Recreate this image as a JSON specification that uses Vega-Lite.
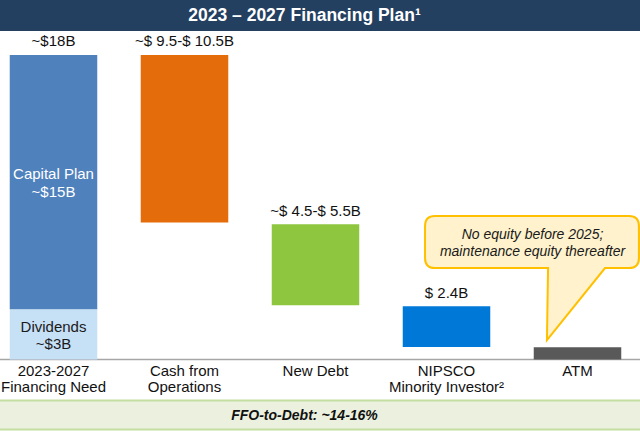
{
  "$schema": "https://vega.github.io/schema/vega-lite/v6.json",
  "width": 640,
  "height": 431,
  "autosize": "none",
  "padding": 0,
  "background": "#ffffff",
  "config": {"view": {"stroke": null}, "font": "Liberation Sans"},
  "datasets": {
    "bars": [
      {"cat": "2023-2027\nFinancing Need", "part": "Capital Plan", "lo": 2.95, "hi": 18},
      {"cat": "2023-2027\nFinancing Need", "part": "Dividends", "lo": 0, "hi": 2.95},
      {"cat": "Cash from\nOperations", "part": "Cash from Operations", "lo": 8.1, "hi": 18},
      {"cat": "New Debt", "part": "New Debt", "lo": 3.2, "hi": 8.0},
      {"cat": "NIPSCO\nMinority Investor²", "part": "NIPSCO Minority Investor", "lo": 0.74, "hi": 3.15},
      {"cat": "ATM", "part": "ATM", "lo": 0, "hi": 0.72}
    ],
    "toplabels": [
      {"cat": "2023-2027\nFinancing Need", "label": "~$18B", "top": 18},
      {"cat": "Cash from\nOperations", "label": "~$ 9.5-$ 10.5B", "top": 18},
      {"cat": "New Debt", "label": "~$ 4.5-$ 5.5B", "top": 8.0},
      {"cat": "NIPSCO\nMinority Investor²", "label": "$ 2.4B", "top": 3.15}
    ],
    "cats": [
      {"cat": "2023-2027\nFinancing Need"},
      {"cat": "Cash from\nOperations"},
      {"cat": "New Debt"},
      {"cat": "NIPSCO\nMinority Investor²"},
      {"cat": "ATM"}
    ]
  },
  "layer": [
    {
      "data": {"values": [{"a": 21.3, "b": 19.41}]},
      "mark": {"type": "rect", "color": "#244061"},
      "encoding": {
        "y": {"field": "a", "type": "quantitative", "scale": {"domain": [-4.23, 21.25], "nice": false, "zero": false}, "axis": null},
        "y2": {"field": "b"}
      }
    },
    {
      "data": {"values": [{"a": -2.42, "b": -4.14}]},
      "mark": {"type": "rect", "color": "#ebf1de"},
      "encoding": {
        "y": {"field": "a", "type": "quantitative"},
        "y2": {"field": "b"}
      }
    },
    {
      "data": {"values": [{"v": -2.42}, {"v": -4.14}]},
      "mark": {"type": "rule", "color": "#c4dda0", "strokeWidth": 2},
      "encoding": {"y": {"field": "v", "type": "quantitative"}}
    },
    {
      "data": {"values": [{"v": 0}]},
      "mark": {"type": "rule", "color": "#a6a6a6", "strokeWidth": 1.5},
      "encoding": {"y": {"field": "v", "type": "quantitative"}}
    },
    {
      "data": {"name": "bars"},
      "mark": {"type": "bar"},
      "encoding": {
        "x": {"field": "cat", "type": "nominal", "axis": null,
              "scale": {"domain": ["2023-2027\nFinancing Need", "Cash from\nOperations", "New Debt", "NIPSCO\nMinority Investor²", "ATM"],
                        "range": [-12, 643], "paddingInner": 0.332, "paddingOuter": 0.166}},
        "y": {"field": "lo", "type": "quantitative"},
        "y2": {"field": "hi"},
        "color": {"field": "part", "type": "nominal", "legend": null,
                  "scale": {"domain": ["Capital Plan", "Dividends", "Cash from Operations", "New Debt", "NIPSCO Minority Investor", "ATM"],
                            "range": ["#4f81bd", "#c6e0f6", "#e46c0a", "#8ec63f", "#0078d7", "#595959"]}}
      }
    },
    {
      "data": {"name": "toplabels"},
      "mark": {"type": "text", "fontSize": 15, "baseline": "alphabetic", "dy": -8.5, "color": "#111111"},
      "encoding": {
        "x": {"field": "cat", "type": "nominal"},
        "y": {"field": "top", "type": "quantitative"},
        "text": {"field": "label"}
      }
    },
    {
      "data": {"values": [{"cat": "2023-2027\nFinancing Need", "label": "Capital Plan\n~$15B", "mid": 10.96}]},
      "mark": {"type": "text", "fontSize": 15, "baseline": "middle", "lineBreak": "\n", "lineHeight": 17.5, "color": "#ffffff"},
      "encoding": {
        "x": {"field": "cat", "type": "nominal"},
        "y": {"field": "mid", "type": "quantitative"},
        "text": {"field": "label"}
      }
    },
    {
      "data": {"values": [{"cat": "2023-2027\nFinancing Need", "label": "Dividends\n~$3B", "mid": 1.94}]},
      "mark": {"type": "text", "fontSize": 15, "baseline": "middle", "lineBreak": "\n", "lineHeight": 17.5, "color": "#1a1a1a"},
      "encoding": {
        "x": {"field": "cat", "type": "nominal"},
        "y": {"field": "mid", "type": "quantitative"},
        "text": {"field": "label"}
      }
    },
    {
      "data": {"values": [{"cat": "ATM", "v": 4.8}]},
      "mark": {"type": "point", "filled": true, "fill": "#fff2cc", "stroke": "#ffc000", "strokeWidth": 2, "opacity": 1, "fillOpacity": 1, "strokeOpacity": 1, "size": 102400,
               "shape": "M -0.891 -0.389 L 0.322 -0.389 Q 0.384 -0.389 0.384 -0.327 L 0.384 -0.127 Q 0.384 -0.064 0.322 -0.064 L 0.172 -0.064 L -0.191 0.386 L -0.184 -0.064 L -0.891 -0.064 Q -0.953 -0.064 -0.953 -0.127 L -0.953 -0.327 Q -0.953 -0.389 -0.891 -0.389 Z"},
      "encoding": {
        "x": {"field": "cat", "type": "nominal"},
        "y": {"field": "v", "type": "quantitative"}
      }
    },
    {
      "data": {"values": [{"cat": "ATM", "v": 7.36, "label": "No equity before 2025;\nmaintenance equity thereafter"}]},
      "mark": {"type": "text", "fontSize": 14, "fontStyle": "italic", "baseline": "middle", "lineBreak": "\n", "lineHeight": 17, "dx": -45, "color": "#1a1a1a"},
      "encoding": {
        "x": {"field": "cat", "type": "nominal"},
        "y": {"field": "v", "type": "quantitative"},
        "text": {"field": "label"}
      }
    },
    {
      "data": {"name": "cats"},
      "mark": {"type": "text", "fontSize": 15, "baseline": "alphabetic", "lineBreak": "\n", "lineHeight": 16, "color": "#111111"},
      "encoding": {
        "x": {"field": "cat", "type": "nominal"},
        "y": {"datum": -0.975, "type": "quantitative"},
        "text": {"field": "cat"}
      }
    },
    {
      "data": {"values": [{"label": "2023 – 2027 Financing Plan¹", "v": 20.3}]},
      "mark": {"type": "text", "fontSize": 17.5, "fontWeight": "bold", "baseline": "middle", "color": "#ffffff", "dx": -15.5},
      "encoding": {
        "y": {"field": "v", "type": "quantitative"},
        "text": {"field": "label"}
      }
    },
    {
      "data": {"values": [{"label": "FFO-to-Debt: ~14-16%", "v": -3.34}]},
      "mark": {"type": "text", "fontSize": 14, "fontWeight": "bold", "fontStyle": "italic", "baseline": "middle", "color": "#111111", "dx": -15.5},
      "encoding": {
        "y": {"field": "v", "type": "quantitative"},
        "text": {"field": "label"}
      }
    }
  ]
}
